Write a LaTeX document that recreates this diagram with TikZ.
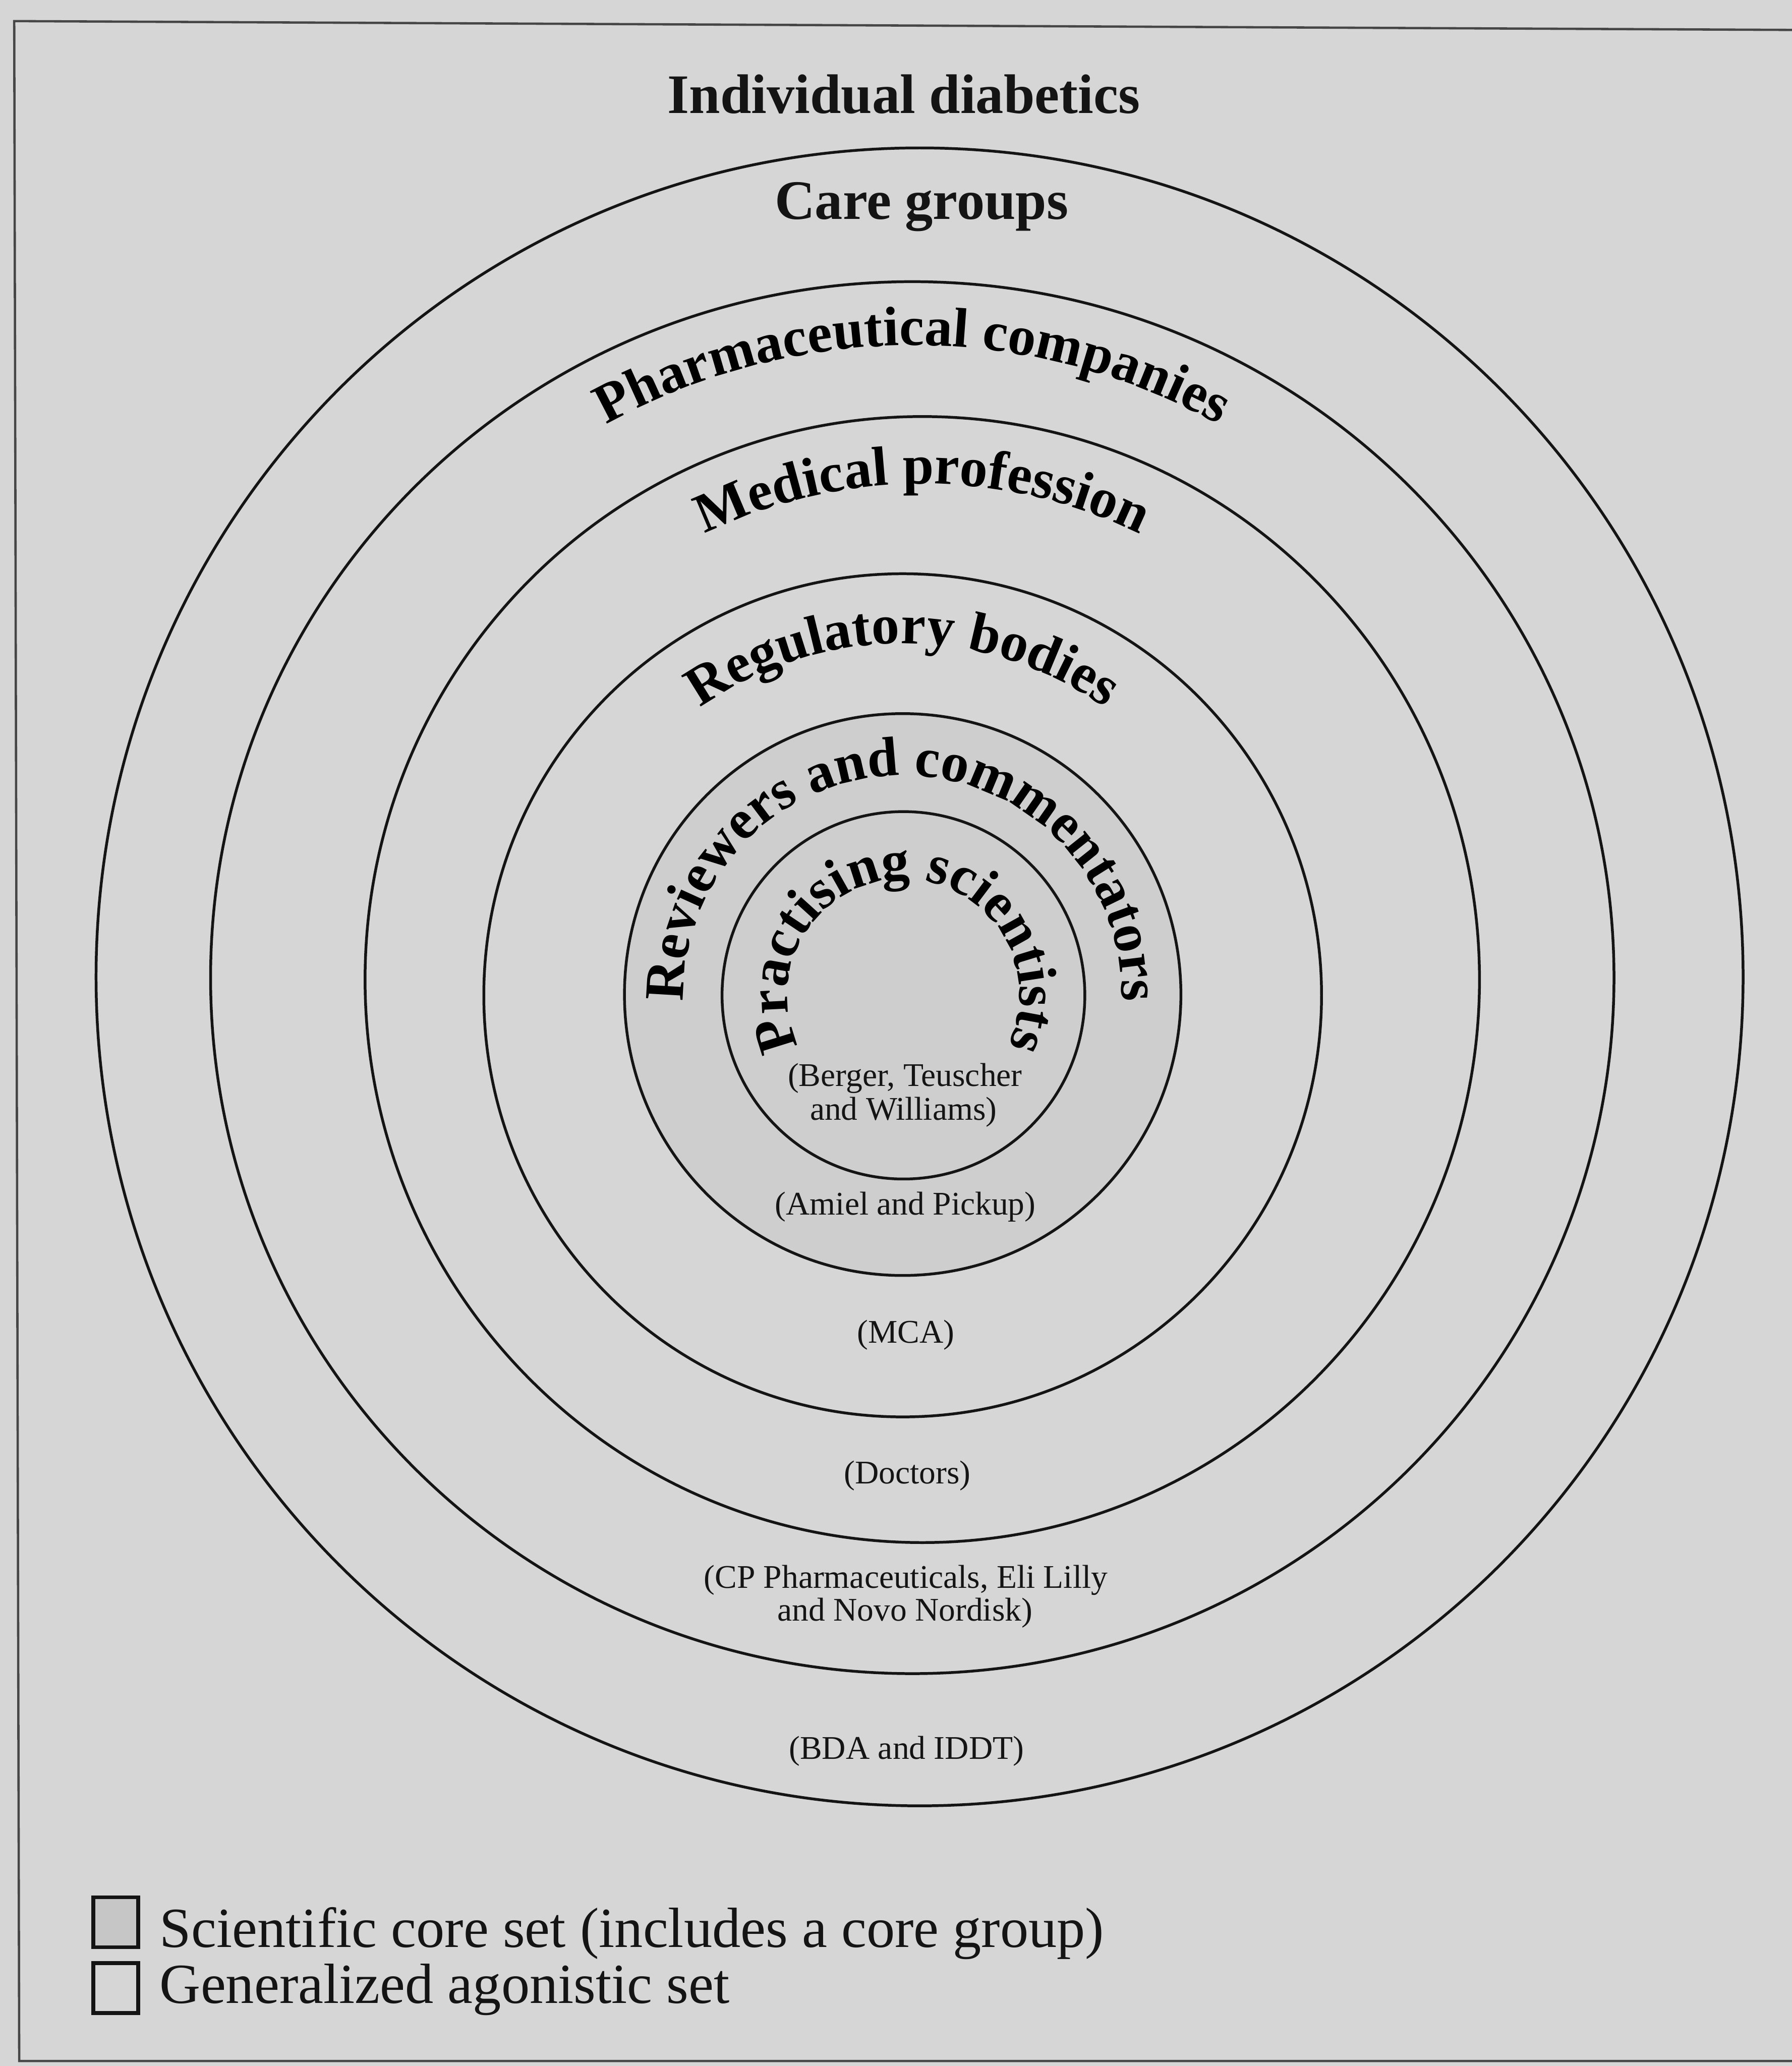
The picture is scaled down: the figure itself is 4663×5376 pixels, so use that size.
\documentclass[tikz,border=0pt]{standalone}
\usepackage{fontspec}
\setmainfont{Liberation Serif}
\usetikzlibrary{decorations.text}
\definecolor{paper}{RGB}{214,214,214}
\definecolor{coreshade}{RGB}{206,206,206}
\definecolor{keyshade}{RGB}{198,198,198}
\definecolor{ink}{RGB}{20,20,20}
\definecolor{framecol}{RGB}{70,70,70}
\newcommand\ringfont{\bfseries\fontsize{14.5pt}{14.5pt}\selectfont}
\newcommand\notefont{\fontsize{8.6pt}{8.8pt}\selectfont}
\newcommand\keyfont{\fontsize{14.75pt}{15pt}\selectfont}

\begin{document}
\begin{tikzpicture}[x=0.1pt,y=0.1pt,
  ring/.style={draw=ink, line width=0.72pt},
  ringlabel/.style={decorate, decoration={text along path, text align=center}},
  note/.style={font=\notefont, text=ink, anchor=base, inner sep=0pt},
  heading/.style={font=\ringfont, text=ink, anchor=base, inner sep=0pt},
  keybox/.style={draw=ink, line width=1pt, minimum width=11.7pt, minimum height=13pt, inner sep=0pt},
  keytext/.style={font=\keyfont, text=ink, anchor=base west, inner sep=0pt}]

\useasboundingbox (0,0) rectangle (4663,5376);
\fill[paper] (0,0) rectangle (4663,5376);

% page frame (open on the right)
\draw[framecol, line width=0.6pt] (4663,5298) -- (37,5321) -- (50,13) -- (4663,13);

% centres of the rings
\coordinate (c1) at (2393,2834);
\coordinate (c2) at (2374,2832);
\coordinate (c3) at (2400,2827);
\coordinate (c4) at (2349,2786);
\coordinate (c5) at (2349,2788);
\coordinate (c6) at (2351,2786);

% scientific core set
\fill[coreshade] (c5) ellipse [x radius=724, y radius=731];

% rings
\draw[ring] (c1) ellipse [x radius=2143, y radius=2157];
\draw[ring] (c2) ellipse [x radius=1826, y radius=1811];
\draw[ring] (c3) ellipse [x radius=1450, y radius=1465];
\draw[ring] (c4) ellipse [x radius=1090, y radius=1097];
\draw[ring] (c5) ellipse [x radius=724, y radius=731];
\draw[ring] (c6) ellipse [x radius=472, y radius=478];

% straight headings
\node[heading] (diabetics) at (2352,5081) {Individual diabetics};
\node[heading] (care) at (2398,4806) {Care groups};

% curved headings
\path[ringlabel, decoration={text={|\ringfont|Pharmaceutical companies}}]
  (c2) ++(150:1645) arc[start angle=150, end angle=30, radius=1645];
\path[ringlabel, decoration={text={|\ringfont|Medical profession}}]
  (c3) ++(150:1290) arc[start angle=150, end angle=30, radius=1290];
\path[ringlabel, decoration={text={|\ringfont|Regulatory bodies}}]
  (c4) ++(160:915) arc[start angle=160, end angle=20, radius=915];
\path[ringlabel, decoration={text={|\ringfont|Reviewers and commentators}}]
  (c5) ++(230:570) arc[start angle=230, end angle=-50, radius=570];
\path[ringlabel, decoration={text={|\ringfont|Practising scientists}}]
  (c6) ++(240:302) arc[start angle=240, end angle=-60, radius=302];

% members of each set
\node[note] (berger1) at (2355,2550) {(Berger, Teuscher};
\node[note] (berger2) at (2351,2462) {and Williams)};
\node[note] (amiel) at (2356,2215) {(Amiel and Pickup)};
\node[note] (mca) at (2357,1881) {(MCA)};
\node[note] (doctors) at (2361,1515) {(Doctors)};
\node[note] (cp1) at (2357,1244) {(CP Pharmaceuticals, Eli Lilly};
\node[note] (cp2) at (2355,1158) {and Novo Nordisk)};
\node[note] (bda) at (2359,799) {(BDA and IDDT)};

% key
\node[keybox, fill=keyshade] (key1) at (301.5,374) {};
\node[keybox] (key2) at (301.5,202.5) {};
\node[keytext] (key1text) at (414,309) {Scientific core set (includes a core group)};
\node[keytext] (key2text) at (414,164) {Generalized agonistic set};
\end{tikzpicture}
\end{document}
